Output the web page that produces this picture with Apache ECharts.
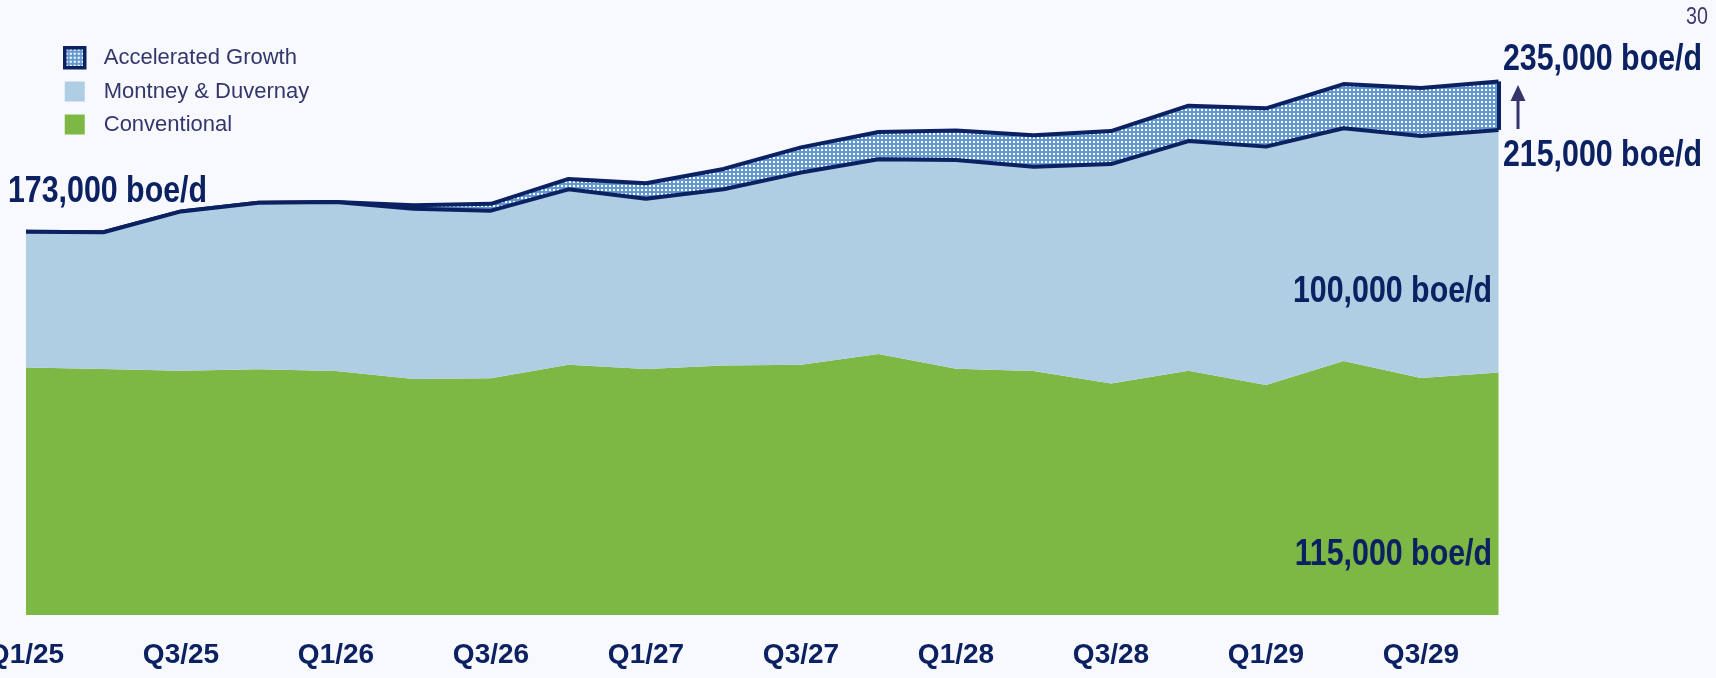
<!DOCTYPE html>
<html>
<head>
<meta charset="utf-8">
<script src="https://cdn.jsdelivr.net/npm/echarts@6/dist/echarts.min.js"></script>
<style>
  html, body { margin: 0; padding: 0; background: #f8f9fe; }
  #chart { width: 1716px; height: 678px; }
</style>
</head>
<body>
<div id="chart"></div>
<script>
// quarters on the x axis
var quarters = ['Q1/25', 'Q2/25', 'Q3/25', 'Q4/25', 'Q1/26', 'Q2/26', 'Q3/26', 'Q4/26',
  'Q1/27', 'Q2/27', 'Q3/27', 'Q4/27', 'Q1/28', 'Q2/28', 'Q3/28', 'Q4/28',
  'Q1/29', 'Q2/29', 'Q3/29', 'Q4/29'];

// production, thousand boe/d
var conventional = [117.0, 116.4, 115.7, 116.3, 115.6, 112.3, 112.6, 118.2, 116.4, 117.9,
  118.2, 122.6, 116.5, 115.6, 110.4, 115.7, 109.8, 119.7, 112.7, 115.0];
var montney = [56.0, 56.4, 65.7, 68.7, 69.7, 70.2, 69.1, 72.3, 70.2, 72.6,
  79.2, 80.3, 86.1, 84.2, 90.5, 94.7, 98.3, 96.0, 99.8, 100.0];
var accelerated = [0, 0, 0, 0, 0, 1.4, 2.8, 4.3, 6.4, 8.4,
  10.4, 11.2, 12.1, 13.0, 13.6, 14.6, 15.8, 18.2, 19.8, 20.0];

// callouts
var startLabel = '173,000 boe/d';
var endTotalLabel = '235,000 boe/d';
var endBaseLabel = '215,000 boe/d';
var montneyLabel = '100,000 boe/d';
var convLabel = '115,000 boe/d';
var pageNo = '30';

var navy = '#0b2161';
var green = '#7cb843';
var lightBlue = '#afcde3';
var sans = "'Liberation Sans', Arial, sans-serif";

// dotted fill for the accelerated band
function dotTile() {
  var c = document.createElement('canvas');
  c.width = 4;
  c.height = 4;
  var ctx = c.getContext('2d');
  ctx.fillStyle = '#6399cf';
  ctx.fillRect(0, 0, 4, 4);
  ctx.fillStyle = '#ffffff';
  ctx.fillRect(1, 1, 2, 2);
  return c;
}
var dots = { image: dotTile(), repeat: 'repeat' };

var last = quarters.length - 1;
var baseTop = conventional[last] + montney[last];
var totalTop = baseTop + accelerated[last];

var chart = echarts.init(document.getElementById('chart'), null, { renderer: 'canvas' });

// narrow bold callout: Liberation Sans squeezed to look like Arial Narrow
function bigText(txt, x, y, align) {
  return {
    type: 'text',
    x: x,
    y: y,
    z: 100,
    scaleX: 0.82,
    style: {
      text: txt,
      fill: navy,
      font: 'bold 37px ' + sans,
      align: align || 'left',
      verticalAlign: 'middle'
    }
  };
}

var option = {
  backgroundColor: '#f8f9fe',
  animation: false,
  grid: { left: 26, right: 217.5, top: 45, bottom: 63, outerBoundsMode: 'none' },
  legend: {
    orient: 'vertical',
    left: 63,
    top: 46,
    padding: 0,
    itemWidth: 20,
    itemHeight: 20,
    itemGap: 11,
    icon: 'rect',
    selectedMode: false,
    textStyle: { fontSize: 22, lineHeight: 20, color: '#33366a', fontFamily: sans, padding: [0, 0, 0, 14] },
    data: [
      { name: 'Accelerated Growth', itemStyle: { color: dots, borderColor: navy, borderWidth: 3.5 } },
      { name: 'Montney & Duvernay', itemStyle: { color: lightBlue, borderWidth: 0 } },
      { name: 'Conventional', itemStyle: { color: green, borderWidth: 0 } }
    ]
  },
  xAxis: {
    type: 'category',
    data: quarters,
    boundaryGap: false,
    axisLine: { show: false },
    axisTick: { show: false },
    axisLabel: {
      interval: 1,
      margin: 26,
      fontSize: 28,
      fontWeight: 'bold',
      color: navy,
      fontFamily: sans
    }
  },
  yAxis: {
    type: 'value',
    min: 15,
    max: 250,
    show: false,
    splitLine: { show: false }
  },
  series: [{
    name: 'Conventional',
    type: 'line',
    stack: 'prod',
    data: conventional,
    symbol: 'none',
    z: 1,
    itemStyle: { color: green },
    lineStyle: { width: 0, color: green },
    areaStyle: { color: green, opacity: 1 }
  }, {
    name: 'Montney & Duvernay',
    type: 'line',
    stack: 'prod',
    data: montney,
    symbol: 'none',
    z: 3,
    clip: false,
    itemStyle: { color: lightBlue },
    lineStyle: { width: 4, color: navy },
    areaStyle: { color: lightBlue, opacity: 1 }
  }, {
    name: 'Accelerated Growth',
    type: 'line',
    stack: 'prod',
    data: accelerated,
    symbol: 'none',
    z: 2,
    clip: false,
    itemStyle: { color: '#6399cf' },
    lineStyle: { width: 4, color: navy },
    areaStyle: { color: dots, opacity: 1 },
    markLine: {
      silent: true,
      symbol: ['none', 'none'],
      label: { show: false },
      lineStyle: { color: navy, width: 4, type: 'solid' },
      data: [[{ coord: [quarters[last], baseTop] }, { coord: [quarters[last], totalTop] }]]
    }
  }],
  graphic: [
    bigText(startLabel, 8, 192),
    bigText(endTotalLabel, 1503, 60),
    bigText(endBaseLabel, 1503, 156),
    bigText(montneyLabel, 1492, 292, 'right'),
    bigText(convLabel, 1492, 555, 'right'),
    {
      type: 'text',
      x: 1708,
      y: 17,
      z: 100,
      scaleX: 0.82,
      style: { text: pageNo, fill: '#3a3a6e', font: '24px ' + sans, align: 'right', verticalAlign: 'middle' }
    },
    {
      type: 'line',
      z: 100,
      shape: { x1: 1518, y1: 129, x2: 1518, y2: 98 },
      style: { stroke: '#35336b', lineWidth: 3 }
    },
    {
      type: 'polygon',
      z: 100,
      shape: { points: [[1518, 85], [1510.5, 101], [1525.5, 101]] },
      style: { fill: '#35336b' }
    }
  ]
};

chart.setOption(option);
</script>
</body>
</html>
